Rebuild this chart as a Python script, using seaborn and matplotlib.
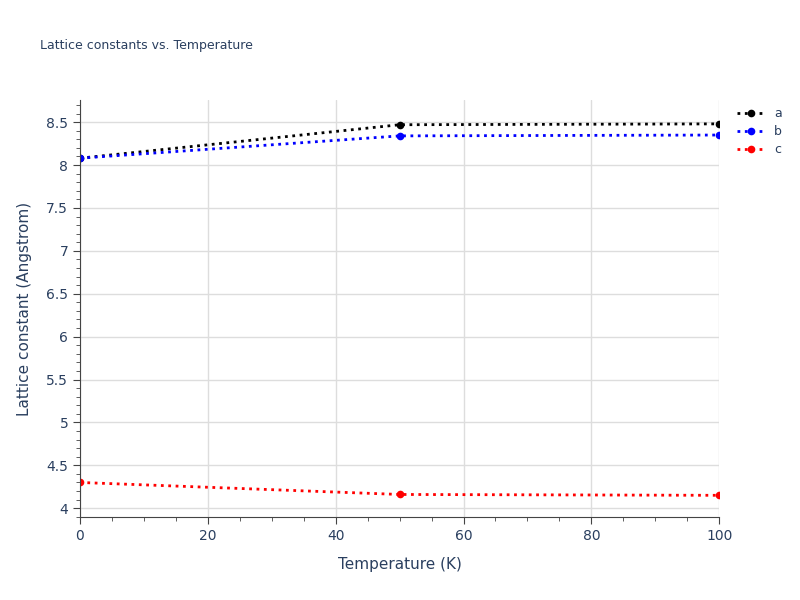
import matplotlib
matplotlib.use("Agg")
import matplotlib.pyplot as plt
import pandas as pd
import seaborn as sns
from matplotlib.ticker import MultipleLocator

temperature = [0, 50, 100]
lattice_a = [8.08, 8.47, 8.48]
lattice_b = [8.08, 8.34, 8.35]
lattice_c = [4.30, 4.16, 4.15]
series_names = ["a", "b", "c"]
series_colors = ["black", "blue", "red"]

df = pd.DataFrame({
    "Temperature": temperature * 3,
    "value": lattice_a + lattice_b + lattice_c,
    "series": [n for n in series_names for _ in temperature],
})

sns.set_style("white")
plt.rcParams["font.family"] = ["DejaVu Sans"]
text_color = "#2a3f5f"

fig = plt.figure(figsize=(8, 6), dpi=100)
ax = fig.add_axes([0.1, 0.138, 0.799, 0.695])
sns.lineplot(data=df, x="Temperature", y="value", hue="series",
             palette=dict(zip(series_names, series_colors)),
             linestyle=":", linewidth=2, marker="o", markersize=5.5,
             markeredgewidth=0, ax=ax)

ax.set_xlim(0, 100)
ax.set_ylim(3.895, 8.756)
ax.yaxis.set_major_locator(MultipleLocator(0.5))
ax.yaxis.set_minor_locator(MultipleLocator(0.1))
ax.xaxis.set_major_locator(MultipleLocator(20))
ax.xaxis.set_minor_locator(MultipleLocator(5))
ax.set_yticklabels([f"{v:g}" for v in ax.get_yticks()])
ax.grid(True, which="major", color="#dddddd", linewidth=1)
for s in ["top", "right"]:
    ax.spines[s].set_visible(False)
for s in ["left", "bottom"]:
    ax.spines[s].set_color("#444444")
ax.tick_params(which="major", length=5, color="#444444", colors=text_color,
               labelsize=10, left=True, bottom=True)
ax.tick_params(which="minor", length=3, color="#444444", left=True, bottom=True)
ax.set_xlabel("Temperature (K)", color=text_color, fontsize=11, labelpad=10)
ax.set_ylabel("Lattice constant (Angstrom)", color=text_color, fontsize=11, labelpad=10)
fig.text(0.05, 0.918, "Lattice constants vs. Temperature", color=text_color, fontsize=9)

leg = ax.legend(loc="upper left", bbox_to_anchor=(1.01, 1.01), frameon=False,
                fontsize=9, handlelength=2.2, labelspacing=0.4)
for t in leg.get_texts():
    t.set_color(text_color)

fig.savefig("out.png", facecolor="white")
